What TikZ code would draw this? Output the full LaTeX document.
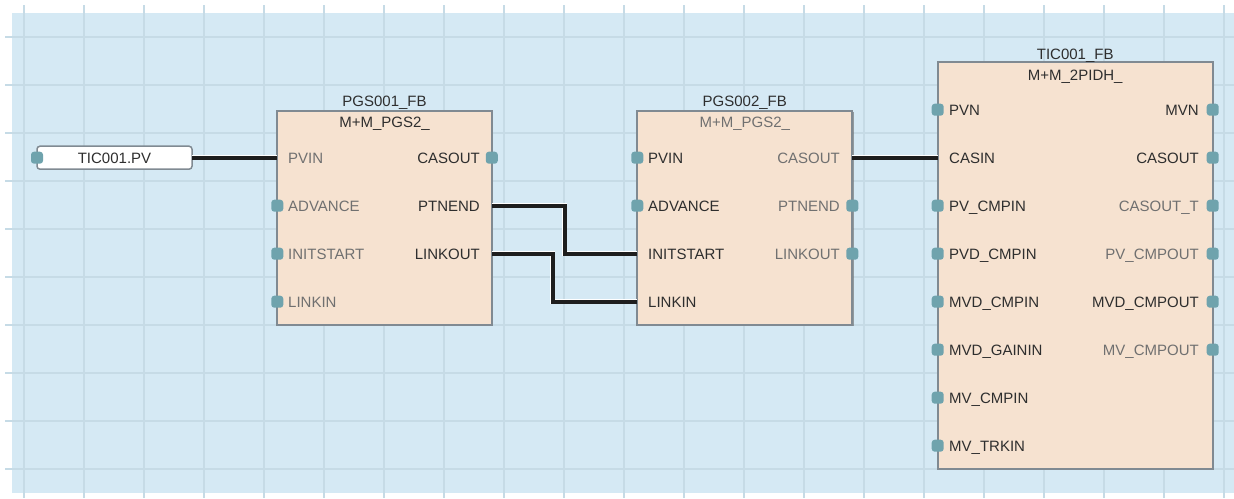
\documentclass[tikz,border=0pt]{standalone}
\usepackage{fontspec}
\setmainfont{Liberation Sans}
\usepackage{xcolor}
\usetikzlibrary{positioning, shadows}

\definecolor{sheetbg}{HTML}{D5E9F4}
\definecolor{gridcol}{HTML}{C6DBE6}
\definecolor{boxfill}{HTML}{F6E2D0}
\definecolor{boxedge}{HTML}{808A92}
\definecolor{portcol}{HTML}{6FA3AD}
\definecolor{wirecol}{HTML}{1E1E1E}
\definecolor{txtdark}{HTML}{2E2E2E}
\definecolor{txtgrey}{HTML}{707070}

\begin{document}
\begin{tikzpicture}[x=1pt, y=-1pt,
    gridline/.style={draw=gridcol, line width=2pt},
    fbbox/.style={rectangle, draw=boxedge, fill=boxfill, line width=1.8pt, inner sep=0pt, outer sep=0pt,
        anchor=north west, drop shadow={shadow xshift=1.3pt, shadow yshift=-1.3pt, fill=black!60, opacity=0.6}},
    varbox/.style={rectangle, rounded corners=3pt, draw=boxedge, fill=white, line width=1.5pt, outer sep=0pt,
        minimum width=155pt, minimum height=23pt, inner sep=0pt, anchor=north west},
    lbl/.style={inner sep=0pt, text height=10.7pt, text depth=0pt, font=\fontsize{15}{16}\selectfont, text=txtdark},
    dim/.style={text=txtgrey},
    port/.style={rectangle, rounded corners=3pt, fill=portcol, minimum width=12pt, minimum height=12pt, inner sep=0pt},
    wire/.style={draw=white, line width=0.8pt, double=wirecol, double distance=3.6pt}
]
    \useasboundingbox (0,0) rectangle (1234,498);

    % Sheet and grid
    \fill[sheetbg] (12,13) rectangle (1234,493);
    \foreach \gx in {24,84,...,1224} \draw[gridline] (\gx,5) -- (\gx,498);
    \foreach \gy in {37,85,...,469} \draw[gridline] (5,\gy) -- (1234,\gy);

    % Input variable
    \node[varbox] (tpv) at (37,146.2) {};
    \node[lbl] (tpv-txt) at (tpv.center) {TIC001.PV};
    \node[port] (tpv-port) at (37,157.7) {};

    % PGS001_FB
    \node[fbbox, minimum width=214.5pt, minimum height=214.3pt] (pgs1) at (277.3,110.7) {};
    \node[lbl, above=4pt of pgs1.north] (pgs1-name) {PGS001\_FB};
    \node[lbl, below=6pt of pgs1.north] (pgs1-type) {M+M\_PGS2\_};
    \node[lbl, dim, anchor=west] (pgs1-pvin)  at (288,157.7) {PVIN};
    \node[lbl, dim, anchor=west] (pgs1-adv)   at (288,205.7) {ADVANCE};
    \node[lbl, dim, anchor=west] (pgs1-init)  at (288,253.7) {INITSTART};
    \node[lbl, dim, anchor=west] (pgs1-linkin) at (288,301.7) {LINKIN};
    \node[lbl, anchor=east] (pgs1-casout)  at (480,157.7) {CASOUT};
    \node[lbl, anchor=east] (pgs1-ptnend)  at (480,205.7) {PTNEND};
    \node[lbl, anchor=east] (pgs1-linkout) at (480,253.7) {LINKOUT};
    \node[port] (pgs1-p-adv)    at (277.3,205.7) {};
    \node[port] (pgs1-p-init)   at (277.3,253.7) {};
    \node[port] (pgs1-p-linkin) at (277.3,301.7) {};
    \node[port] (pgs1-p-casout) at (491.8,157.7) {};
    \coordinate (p1-pvin)    at (277.3,157.7);
    \coordinate (p1-ptnend)  at (491.8,205.7);
    \coordinate (p1-linkout) at (491.8,253.7);

    % PGS002_FB
    \node[fbbox, minimum width=215pt, minimum height=214.3pt] (pgs2) at (637.3,110.7) {};
    \node[lbl, above=4pt of pgs2.north] (pgs2-name) {PGS002\_FB};
    \node[lbl, dim, below=6pt of pgs2.north] (pgs2-type) {M+M\_PGS2\_};
    \node[lbl, anchor=west] (pgs2-pvin)   at (648,157.7) {PVIN};
    \node[lbl, anchor=west] (pgs2-adv)    at (648,205.7) {ADVANCE};
    \node[lbl, anchor=west] (pgs2-init)   at (648,253.7) {INITSTART};
    \node[lbl, anchor=west] (pgs2-linkin) at (648,301.7) {LINKIN};
    \node[lbl, dim, anchor=east] (pgs2-casout)  at (840,157.7) {CASOUT};
    \node[lbl, dim, anchor=east] (pgs2-ptnend)  at (840,205.7) {PTNEND};
    \node[lbl, dim, anchor=east] (pgs2-linkout) at (840,253.7) {LINKOUT};
    \node[port] (pgs2-p-pvin)    at (637.3,157.7) {};
    \node[port] (pgs2-p-adv)     at (637.3,205.7) {};
    \node[port] (pgs2-p-ptnend)  at (852.3,205.7) {};
    \node[port] (pgs2-p-linkout) at (852.3,253.7) {};
    \coordinate (p2-init)   at (637.3,253.7);
    \coordinate (p2-linkin) at (637.3,301.7);
    \coordinate (p2-casout) at (852.3,157.7);

    % TIC001_FB
    \node[fbbox, minimum width=275pt, minimum height=406.7pt] (tic) at (937.7,62.3) {};
    \node[lbl, above=3pt of tic.north] (tic-name) {TIC001\_FB};
    \node[lbl, below=7pt of tic.north] (tic-type) {M+M\_2PIDH\_};
    \node[lbl, anchor=west] (tic-pvn)      at (949,109.7) {PVN};
    \node[lbl, anchor=west] (tic-casin)    at (949,157.7) {CASIN};
    \node[lbl, anchor=west] (tic-pvcmp)    at (949,205.7) {PV\_CMPIN};
    \node[lbl, anchor=west] (tic-pvdcmp)   at (949,253.7) {PVD\_CMPIN};
    \node[lbl, anchor=west] (tic-mvdcmp)   at (949,301.7) {MVD\_CMPIN};
    \node[lbl, anchor=west] (tic-mvdgain)  at (949,349.7) {MVD\_GAININ};
    \node[lbl, anchor=west] (tic-mvcmp)    at (949,397.7) {MV\_CMPIN};
    \node[lbl, anchor=west] (tic-mvtrk)    at (949,445.7) {MV\_TRKIN};
    \node[lbl, anchor=east] (tic-mvn)      at (1199,109.7) {MVN};
    \node[lbl, anchor=east] (tic-casout)   at (1199,157.7) {CASOUT};
    \node[lbl, dim, anchor=east] (tic-casoutt)  at (1199,205.7) {CASOUT\_T};
    \node[lbl, dim, anchor=east] (tic-pvcmpout) at (1199,253.7) {PV\_CMPOUT};
    \node[lbl, anchor=east] (tic-mvdcmpout)     at (1199,301.7) {MVD\_CMPOUT};
    \node[lbl, dim, anchor=east] (tic-mvcmpout) at (1199,349.7) {MV\_CMPOUT};
    \node[port] (tic-p-pvn)     at (937.7,109.7) {};
    \node[port] (tic-p-pvcmp)   at (937.7,205.7) {};
    \node[port] (tic-p-pvdcmp)  at (937.7,253.7) {};
    \node[port] (tic-p-mvdcmp)  at (937.7,301.7) {};
    \node[port] (tic-p-mvdgain) at (937.7,349.7) {};
    \node[port] (tic-p-mvcmp)   at (937.7,397.7) {};
    \node[port] (tic-p-mvtrk)   at (937.7,445.7) {};
    \node[port] (tic-p-mvn)       at (1212.7,109.7) {};
    \node[port] (tic-p-casout)    at (1212.7,157.7) {};
    \node[port] (tic-p-casoutt)   at (1212.7,205.7) {};
    \node[port] (tic-p-pvcmpout)  at (1212.7,253.7) {};
    \node[port] (tic-p-mvdcmpout) at (1212.7,301.7) {};
    \node[port] (tic-p-mvcmpout)  at (1212.7,349.7) {};
    \coordinate (tic-casin-in) at (937.7,157.7);

    % Wires
    \draw[wire] (tpv.east) -- (p1-pvin);
    \draw[wire] (p1-ptnend) -- ++(73,0) |- (p2-init);
    \draw[wire] (p1-linkout) -- ++(61,0) |- (p2-linkin);
    \draw[wire] (p2-casout) -- (tic-casin-in);
\end{tikzpicture}
\end{document}
